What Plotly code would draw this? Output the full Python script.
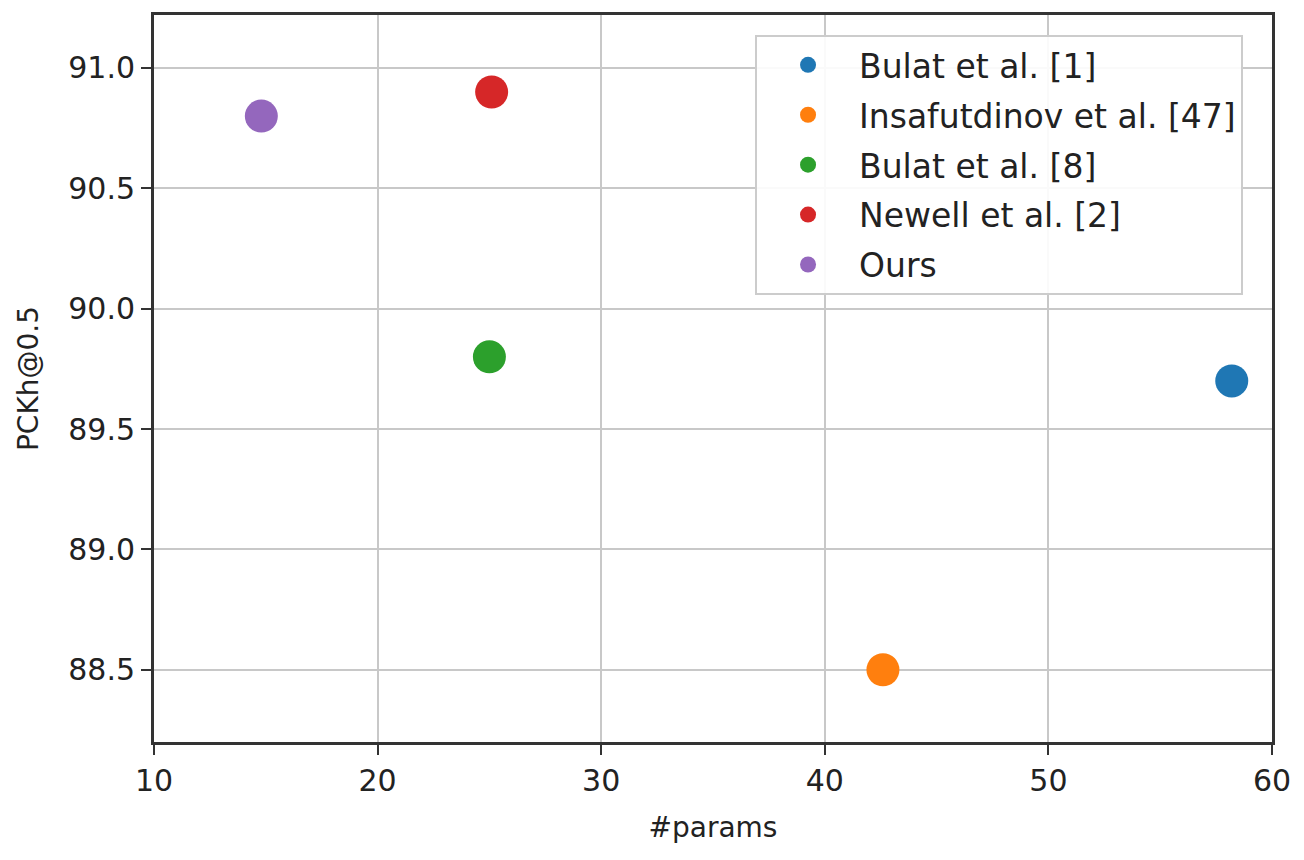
import plotly.graph_objects as go

methods = ["Bulat et al. [1]", "Insafutdinov et al. [47]", "Bulat et al. [8]", "Newell et al. [2]", "Ours"]
params = [58.2, 42.6, 25.0, 25.1, 14.8]
pckh = [89.7, 88.5, 89.8, 90.9, 90.8]
colors = ["#1f77b4", "#ff7f0e", "#2ca02c", "#d62728", "#9467bd"]

x_ticks = [10, 20, 30, 40, 50, 60]
y_ticks = [88.5, 89.0, 89.5, 90.0, 90.5, 91.0]

fig = go.Figure()
for i, (name, xv, yv, c) in enumerate(zip(methods, params, pckh, colors)):
    fig.add_trace(go.Scatter(x=[xv], y=[yv], mode="markers", name=name,
                             legendgroup=f"g{i}",
                             marker=dict(size=33, color=c, line=dict(width=0))))

font = "DejaVu Sans, sans-serif"
fig.update_layout(
    width=1304, height=860,
    margin=dict(l=146, r=40, t=4, b=126),
    paper_bgcolor="white", plot_bgcolor="white",
    font=dict(family=font, size=30, color="#222"),
    showlegend=True,
    legend=dict(x=0.5376, y=0.9726, xanchor="left", yanchor="top",
                bgcolor="rgba(255,255,255,0.9)", bordercolor="#cccccc", borderwidth=2,
                font=dict(size=33, color="#222"), itemsizing="trace", itemwidth=92,
                tracegroupgap=4),
    xaxis=dict(range=[10, 60], tickvals=x_ticks, ticktext=[str(v) for v in x_ticks],
               showgrid=True, gridcolor="#c8c8c8", gridwidth=2,
               showline=True, linecolor="#333", linewidth=3, mirror=True,
               ticks="outside", ticklen=10, tickwidth=2, tickcolor="#333",
               zeroline=False, tickfont=dict(size=30),
               title=dict(text="#params", font=dict(size=28), standoff=21)),
    yaxis=dict(range=[88.2, 91.22], tickvals=y_ticks, ticktext=[f"{v:.1f}" for v in y_ticks],
               showgrid=True, gridcolor="#c8c8c8", gridwidth=2,
               showline=True, linecolor="#333", linewidth=3, mirror=True,
               ticks="outside", ticklen=10, tickwidth=2, tickcolor="#333",
               zeroline=False, tickfont=dict(size=30),
               title=dict(text="PCKh@0.5", font=dict(size=28), standoff=22)),
)
fig.write_html("out.html")
